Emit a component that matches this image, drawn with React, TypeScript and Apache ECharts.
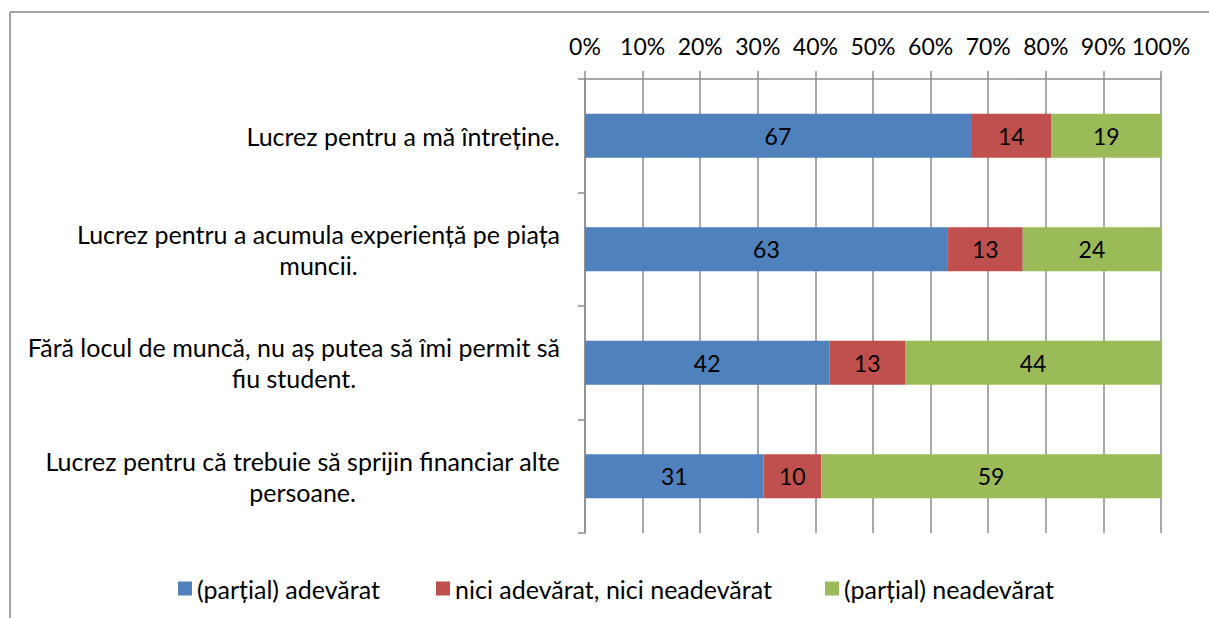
import React, { useEffect, useRef } from "react";
import * as echarts from "echarts";

const categories = [
  "Lucrez pentru a mă întreține.",
  "Lucrez pentru a acumula experiență pe piața\nmuncii.",
  "Fără locul de muncă, nu aș putea să îmi permit să\nfiu student.",
  "Lucrez pentru că trebuie să sprijin financiar alte\npersoane.",
];
const seriesNames = [
  "(parțial) adevărat",
  "nici adevărat, nici neadevărat",
  "(parțial) neadevărat",
];
const adevarat = [67, 63, 42, 31];
const neutru = [14, 13, 13, 10];
const neadevarat = [19, 24, 44, 59];
const colors = ["#4F81BD", "#C0504D", "#9BBB59"];

const FONT = "Lato, 'Open Sans', sans-serif";

export default function App() {
  const ref = useRef<HTMLDivElement>(null);
  useEffect(() => {
    if (!ref.current) return;
    const chart = echarts.init(ref.current, null, { renderer: "svg" });
    const raw = [adevarat, neutru, neadevarat];
    const totals = categories.map((_, i) => raw.reduce((s, arr) => s + arr[i], 0));
    const series = raw.map((arr, si) => ({
      name: seriesNames[si],
      type: "bar",
      stack: "total",
      barWidth: 44,
      itemStyle: { color: colors[si] },
      label: {
        show: true,
        position: "inside",
        color: "#000",
        fontFamily: FONT,
        fontSize: 23,
        formatter: (p: any) => String(arr[p.dataIndex]),
      },
      data: arr.map((v, i) => (v / totals[i]) * 100),
    }));
    const legendLefts = [178, 436, 825];
    chart.setOption({
      animation: false,
      backgroundColor: "#fff",
      grid: { left: 585, right: 48, top: 79, bottom: 85 },
      xAxis: {
        type: "value",
        position: "top",
        min: 0,
        max: 100,
        interval: 10,
        axisLine: { show: true, lineStyle: { color: "#8c8c8c", width: 1.5 } },
        axisTick: { show: true, length: 8, lineStyle: { color: "#8c8c8c", width: 1.5 } },
        splitLine: { show: true, lineStyle: { color: "#8c8c8c", width: 1.5 } },
        axisLabel: {
          formatter: "{value}%",
          color: "#000",
          fontFamily: FONT,
          fontSize: 23,
          margin: 22,
        },
      },
      yAxis: {
        type: "category",
        inverse: true,
        data: categories,
        axisLine: { show: true, lineStyle: { color: "#8c8c8c", width: 1.5 } },
        axisTick: { show: true, length: 7, lineStyle: { color: "#8c8c8c", width: 1.5 } },
        axisLabel: {
          color: "#000",
          fontFamily: FONT,
          fontSize: 25,
          margin: 25,
          align: "right",
          lineHeight: 31,
          formatter: (v: string) =>
            v
              .split("\n")
              .map((l) => `{c|${l}}`)
              .join("\n"),
          rich: {
            c: {
              align: "center",
              color: "#000",
              fontFamily: FONT,
              fontSize: 25,
              lineHeight: 31,
            },
          },
        },
      },
      legend: seriesNames.map((n, i) => ({
        data: [n],
        left: legendLefts[i],
        top: 576,
        padding: 0,
        itemWidth: 14,
        itemHeight: 14,
        itemGap: 6,
        icon: "rect",
        selectedMode: false,
        textStyle: { color: "#000", fontFamily: FONT, fontSize: 25 },
      })),
      graphic: [
        {
          type: "line",
          shape: { x1: 10, y1: 12, x2: 1209, y2: 12 },
          style: { stroke: "#868686", lineWidth: 1.5 },
        },
        {
          type: "line",
          shape: { x1: 10, y1: 12, x2: 10, y2: 618 },
          style: { stroke: "#868686", lineWidth: 1.5 },
        },
      ],
      series,
    });
    return () => chart.dispose();
  }, []);
  return (
    <div
      ref={ref}
      style={{ position: "absolute", left: 0, top: 0, width: 1209, height: 618 }}
    />
  );
}
